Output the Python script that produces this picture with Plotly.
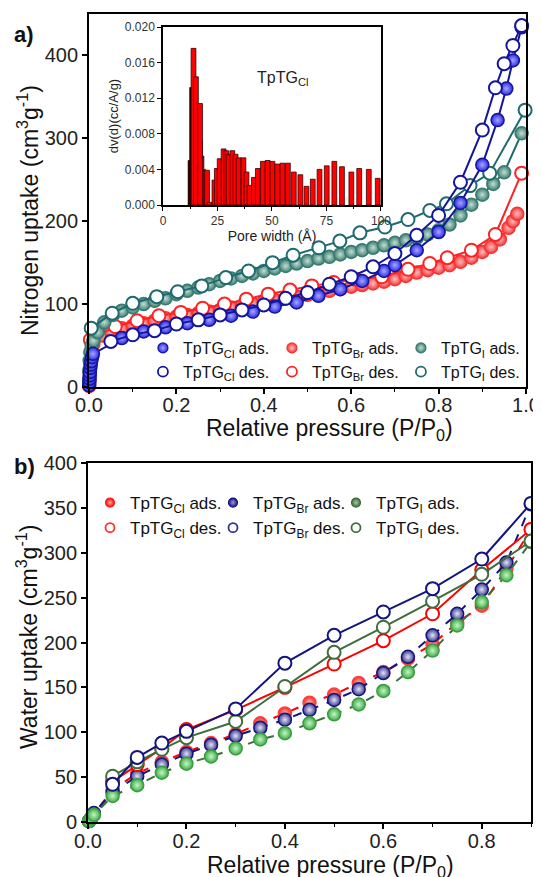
import plotly.graph_objects as go

# ---------------- Panel a : N2 isotherms ----------------
n2_cl_ads_p = [0.0004, 0.0008, 0.0012, 0.0016, 0.002, 0.003, 0.004, 0.005, 0.007, 0.009,
               0.075, 0.125, 0.175, 0.225, 0.275, 0.325, 0.375, 0.425, 0.475, 0.525, 0.575,
               0.625, 0.675, 0.7, 0.75, 0.8, 0.85, 0.9, 0.935, 0.955, 0.97, 0.99]
n2_cl_ads_v = [2, 6, 10, 14, 18, 23, 27, 31, 36, 40,
               59, 67, 72, 77, 81, 86, 91, 97, 102, 110, 118,
               128, 140, 147, 165, 187, 222, 268, 322, 360, 394, 434]
n2_cl_des_p = [0.99, 0.97, 0.95, 0.93, 0.9, 0.85, 0.8, 0.75, 0.7, 0.65, 0.6, 0.55, 0.5,
               0.45, 0.4, 0.35, 0.3, 0.25, 0.2, 0.15, 0.1, 0.05]
n2_cl_des_v = [436, 412, 390, 361, 310, 247, 207, 183, 161, 145, 133, 124, 114,
               107, 99, 93, 87, 81, 76, 68, 63, 55]

n2_br_ads_p = [0.0003, 0.0008, 0.0015, 0.003, 0.006, 0.01, 0.03, 0.05, 0.075, 0.1, 0.125, 0.15,
               0.175, 0.2, 0.225, 0.25, 0.275, 0.3, 0.325, 0.35, 0.375, 0.4, 0.425, 0.45, 0.475,
               0.5, 0.525, 0.55, 0.575, 0.6, 0.625, 0.65, 0.675, 0.7, 0.725, 0.75, 0.775, 0.8,
               0.825, 0.85, 0.875, 0.9, 0.92, 0.94, 0.96, 0.97, 0.98]
n2_br_ads_v = [1, 8, 18, 30, 44, 52, 62, 67, 71, 74, 77, 80,
               83, 85, 87, 89, 91, 93, 96, 98, 100, 103, 105, 107, 109,
               111, 114, 116, 118, 121, 123, 125, 127, 130, 134, 138, 141, 144,
               147, 151, 156, 163, 169, 178, 192, 200, 209]
n2_br_des_p = [0.99, 0.93, 0.875, 0.82, 0.78, 0.73, 0.67, 0.61, 0.56, 0.51, 0.46, 0.41,
               0.36, 0.31, 0.26, 0.21, 0.16, 0.11, 0.06, 0.003]
n2_br_des_v = [258, 184, 165, 156, 149, 142, 133, 130, 126, 122, 117, 112,
               106, 100, 95, 90, 86, 80, 73, 57]

n2_i_ads_p = [0.0003, 0.0008, 0.0015, 0.003, 0.006, 0.01, 0.02, 0.035, 0.055, 0.075, 0.1,
              0.125, 0.15, 0.175, 0.2, 0.225, 0.25, 0.275, 0.3, 0.325, 0.35, 0.375, 0.4,
              0.425, 0.45, 0.475, 0.5, 0.525, 0.55, 0.575, 0.6, 0.625, 0.65, 0.675, 0.7,
              0.725, 0.75, 0.775, 0.8, 0.825, 0.85, 0.875, 0.9, 0.925, 0.95, 0.99]
n2_i_ads_v = [8, 20, 32, 42, 50, 56, 66, 78, 87, 92, 96,
              100, 104, 107, 112, 116, 120, 124, 128, 131, 134, 137, 140,
              143, 146, 149, 152, 155, 157, 160, 163, 165, 168, 171, 174,
              177, 180, 184, 189, 196, 207, 220, 232, 245, 259, 306]
n2_i_des_p = [0.998, 0.917, 0.872, 0.818, 0.78, 0.73, 0.677, 0.62, 0.574, 0.526, 0.467,
              0.42, 0.365, 0.313, 0.258, 0.203, 0.155, 0.1, 0.053, 0.005]
n2_i_des_v = [334, 258, 243, 221, 213, 202, 193, 186, 176, 168, 159,
              150, 140, 132, 122, 115, 109, 101, 89, 71]

# ---------------- Inset : pore size distribution ----------------
pore_dark_w = [12.0, 12.7, 13.4, 14.1, 14.8, 15.5, 16.2, 16.9, 17.6, 18.3, 19.0]
pore_dark_v = [0.0050, 0.0132, 0.0132, 0.0125, 0.0110, 0.0100, 0.0095, 0.0085, 0.0072, 0.0055, 0.0040]
pore_w = [14.0, 15.1, 17.0, 20.2, 21.5, 23.6, 24.7, 26.0, 27.8, 29.0, 30.1, 31.8, 33.3, 34.7,
          36.9, 38.3, 39.7, 41.7, 43.5, 45.8, 48.0, 50.2, 52.4, 54.8, 57.3, 60.0, 63.0, 65.8,
          68.7, 71.8, 75.1, 78.6, 82.1, 86.4, 90.0, 94.4, 98.5]
pore_v = [0.0176, 0.0144, 0.0114, 0.0039, 0.0003, 0.0028, 0.0041, 0.0052, 0.0063, 0.0061, 0.0057,
          0.0061, 0.0057, 0.0053, 0.0053, 0.0037, 0.0022, 0.0031, 0.0041, 0.0049, 0.0050, 0.0049,
          0.0046, 0.0047, 0.0047, 0.0037, 0.0034, 0.0021, 0.0029, 0.0040, 0.0044, 0.0049, 0.0043,
          0.0037, 0.0041, 0.0040, 0.0030]

# ---------------- Panel b : water isotherms ----------------
h2o_ads_p = [0.002, 0.006, 0.012, 0.05, 0.1, 0.15, 0.2, 0.25, 0.3, 0.35, 0.4, 0.45, 0.5,
             0.55, 0.6, 0.65, 0.7, 0.75, 0.8, 0.85, 0.9]
h2o_cl_ads = [1, 4, 9, 36, 54, 67, 78, 88, 98, 110, 121, 133, 142, 155, 167, 182, 198, 222, 241, 282, 326]
h2o_br_ads = [1, 4, 10, 33, 51, 64, 76, 86, 96, 105, 114, 125, 136, 148, 166, 184, 208, 232, 259, 289, 354]
h2o_i_ads = [1, 4, 8, 29, 41, 55, 65, 73, 82, 92, 99, 110, 120, 131, 146, 167, 191, 219, 245, 275, 312]
h2o_des_p = [0.9, 0.8, 0.7, 0.6, 0.5, 0.4, 0.3, 0.2, 0.15, 0.1, 0.05]
h2o_cl_des = [326, 281, 232, 202, 176, 150, 125, 103, 82, 64, 45]
h2o_br_des = [355, 293, 260, 234, 208, 177, 126, 101, 88, 72, 42]
h2o_i_des = [313, 276, 246, 217, 189, 151, 112, 94, 81, 67, 51]

FONT = "Liberation Sans, Arial, sans-serif"
fig = go.Figure()


def ads_trace(x, y, line_col, edge, center, outline, size, xa, ya, dash="solid"):
    return go.Scatter(x=x, y=y, mode="lines+markers", xaxis=xa, yaxis=ya, showlegend=False,
                      cliponaxis=False, hoverinfo="skip",
                      line=dict(color=line_col, width=2, dash=dash),
                      marker=dict(size=size, color=edge,
                                  gradient=dict(type="radial", color=center),
                                  line=dict(color=outline, width=1.5)))


def des_trace(x, y, line_col, size, xa, ya):
    return go.Scatter(x=x, y=y, mode="lines+markers", xaxis=xa, yaxis=ya, showlegend=False,
                      cliponaxis=False, hoverinfo="skip",
                      line=dict(color=line_col, width=2),
                      marker=dict(size=size, color="white", line=dict(color=line_col, width=2)))


# panel a colours
A_CL_LINE, A_CL_EDGE, A_CL_CEN = "#15159c", "#2a2ae8", "#a8a8ff"
A_BR_LINE, A_BR_EDGE, A_BR_CEN = "#ff2222", "#f03a3a", "#ffc0c0"
A_I_LINE, A_I_EDGE, A_I_CEN = "#1e6a6e", "#3e8072", "#c4ddd6"

fig.add_trace(ads_trace(n2_br_ads_p, n2_br_ads_v, A_BR_LINE, A_BR_EDGE, A_BR_CEN, "#ff3030", 13, "x", "y"))
fig.add_trace(des_trace(n2_br_des_p, n2_br_des_v, A_BR_LINE, 13, "x", "y"))
fig.add_trace(ads_trace(n2_i_ads_p, n2_i_ads_v, A_I_LINE, A_I_EDGE, A_I_CEN, "#3a7a70", 13, "x", "y"))
fig.add_trace(des_trace(n2_i_des_p, n2_i_des_v, A_I_LINE, 13, "x", "y"))
fig.add_trace(ads_trace(n2_cl_ads_p, n2_cl_ads_v, A_CL_LINE, A_CL_EDGE, A_CL_CEN, A_CL_LINE, 13, "x", "y"))
fig.add_trace(des_trace(n2_cl_des_p, n2_cl_des_v, A_CL_LINE, 13, "x", "y"))

# inset bars
dark_cols = ["#2a0000", "#3a0000", "#4a0404", "#580808", "#680a0a", "#780c0c", "#880e0e",
             "#981010", "#a81212", "#b81414", "#c81616"]
fig.add_trace(go.Bar(x=pore_dark_w, y=pore_dark_v, width=1.0, xaxis="x3", yaxis="y3",
                     marker=dict(color=dark_cols, line=dict(color="#200000", width=0.6)),
                     showlegend=False, hoverinfo="skip"))
fig.add_trace(go.Bar(x=pore_w, y=pore_v, width=2.2, xaxis="x3", yaxis="y3",
                     marker=dict(color="#ff0000", line=dict(color="#3a0000", width=0.8)),
                     showlegend=False, hoverinfo="skip"))

# panel b colours
B_CL_LINE, B_CL_EDGE, B_CL_CEN = "#ff0000", "#ee2a2a", "#ffb8a8"
B_BR_LINE, B_BR_EDGE, B_BR_CEN = "#14147e", "#3c3c92", "#e4e4f4"
B_I_LINE, B_I_EDGE, B_I_CEN = "#3d6e3d", "#3cae44", "#c8f4c8"

fig.add_trace(ads_trace(h2o_ads_p, h2o_cl_ads, B_CL_LINE, B_CL_EDGE, B_CL_CEN, "#ff4040", 13, "x2", "y2", "dash"))
fig.add_trace(ads_trace(h2o_ads_p, h2o_br_ads, B_BR_LINE, B_BR_EDGE, B_BR_CEN, B_BR_LINE, 13, "x2", "y2", "dash"))
fig.add_trace(ads_trace(h2o_ads_p, h2o_i_ads, B_I_LINE, B_I_EDGE, B_I_CEN, "#3c9c44", 13, "x2", "y2", "dash"))
fig.add_trace(des_trace(h2o_des_p, h2o_cl_des, B_CL_LINE, 13, "x2", "y2"))
fig.add_trace(des_trace(h2o_des_p, h2o_i_des, B_I_LINE, 13, "x2", "y2"))
fig.add_trace(des_trace(h2o_des_p, h2o_br_des, B_BR_LINE, 13, "x2", "y2"))

# legend entries (legend-only markers)
def leg(name, legend, filled, edge, center, outline, size, rank):
    if filled:
        mk = dict(size=size, color=edge, gradient=dict(type="radial", color=center),
                  line=dict(color=outline, width=1.2))
    else:
        mk = dict(size=size, color="white", line=dict(color=outline, width=1.8))
    return go.Scatter(x=[None], y=[None], mode="markers", name=name, legend=legend,
                      marker=mk, legendrank=rank, showlegend=True, xaxis="x", yaxis="y")

CL, BR, I = "TpTG<sub>Cl</sub>", "TpTG<sub>Br</sub>", "TpTG<sub>I</sub>"
fig.add_trace(leg(CL + " ads.", "legend", True, A_CL_EDGE, A_CL_CEN, A_CL_LINE, 10, 1))
fig.add_trace(leg(BR + " ads.", "legend", True, A_BR_EDGE, A_BR_CEN, "#ff3030", 10, 2))
fig.add_trace(leg(I + " ads.", "legend", True, A_I_EDGE, A_I_CEN, "#3a7a70", 10, 3))
fig.add_trace(leg(CL + " des.", "legend", False, None, None, A_CL_LINE, 10, 4))
fig.add_trace(leg(BR + " des.", "legend", False, None, None, A_BR_LINE, 10, 5))
fig.add_trace(leg(I + " des.", "legend", False, None, None, A_I_LINE, 10, 6))

fig.add_trace(leg(CL + " ads.", "legend2", True, "#ff0000", "#ffb0a0", "#ff2020", 9, 1))
fig.add_trace(leg(BR + " ads.", "legend2", True, "#14147e", "#9a9ad0", "#14147e", 9, 2))
fig.add_trace(leg(I + " ads.", "legend2", True, "#3a6a3a", "#a8c8a8", "#3a6a3a", 9, 3))
fig.add_trace(leg(CL + " des.", "legend2", False, None, None, "#ff3030", 9, 4))
fig.add_trace(leg(BR + " des.", "legend2", False, None, None, "#3030a0", 9, 5))
fig.add_trace(leg(I + " des.", "legend2", False, None, None, "#3d6e3d", 9, 6))

axis_common = dict(showline=True, linecolor="black", linewidth=1.8, mirror=True,
                   ticks="outside", ticklen=5, tickwidth=1.5, tickcolor="black",
                   showgrid=False, zeroline=False, automargin=False,
                   tickfont=dict(family=FONT, size=20, color="#222"))
inset_common = dict(showline=True, linecolor="black", linewidth=1.5, mirror=True,
                    ticks="outside", ticklen=4, tickwidth=1.2, tickcolor="black",
                    showgrid=False, zeroline=False, automargin=False,
                    tickfont=dict(family=FONT, size=12, color="#333"))
MINOR = dict(dtick=0.1, ticks="outside", ticklen=3, tickwidth=1.3, tickcolor="black")

# the page adds an 8 px body margin, so the canvas is laid out in (page - 8) pixels
FIG_W, FIG_H = 533, 877
L_MARGIN, W_PLOT = 80.0, 443.0


def fy(px):
    return 1 - px / FIG_H


def fx(px):
    return (px - L_MARGIN) / W_PLOT


fig.update_layout(
    width=FIG_W, height=FIG_H,
    margin=dict(l=80, r=10, t=0, b=0, autoexpand=False),
    paper_bgcolor="white", plot_bgcolor="white",
    barmode="overlay",
    font=dict(family=FONT, color="#222"),
    xaxis=dict(domain=[0.0023, 0.9887], range=[0, 1.0], tickvals=[0, 0.2, 0.4, 0.6, 0.8, 1.0],
               tickformat=".1f", minor=MINOR, anchor="y", ticklabelstandoff=-6, **axis_common),
    yaxis=dict(domain=[fy(379), fy(6)], range=[0, 450], tickvals=[0, 100, 200, 300, 400],
               anchor="x", **axis_common),
    xaxis2=dict(domain=[0.0, 1.0], range=[0, 0.9], tickvals=[0, 0.2, 0.4, 0.6, 0.8],
                tickformat=".1f", minor=MINOR, anchor="y2", ticklabelstandoff=-5, **axis_common),
    yaxis2=dict(domain=[fy(814), fy(455)], range=[0, 400], dtick=50,
                anchor="x2", **axis_common),
    xaxis3=dict(domain=[0.1693, 0.6614], range=[0, 100], tickvals=[0, 25, 50, 75, 100],
                minor=dict(dtick=12.5, ticks="outside", ticklen=2, tickcolor="black"),
                title=dict(text="Pore width (Å)", standoff=2,
                           font=dict(family=FONT, size=14, color="#222")),
                anchor="y3", **inset_common),
    yaxis3=dict(domain=[fy(197), fy(19)], range=[0, 0.020],
                tickvals=[0, 0.004, 0.008, 0.012, 0.016, 0.020], tickformat=".3f",
                title=dict(text="dv(d)(cc/A/g)", standoff=3,
                           font=dict(family=FONT, size=13, color="#222")),
                anchor="x3", **inset_common),
    legend=dict(orientation="h", x=0.124, xanchor="left", y=fy(323), yanchor="top",
                entrywidth=84, entrywidthmode="pixels", bgcolor="rgba(0,0,0,0)",
                font=dict(family=FONT, size=16, color="#111"), tracegroupgap=0,
                itemclick=False, itemdoubleclick=False),
    legend2=dict(orientation="h", x=0.0045, xanchor="left", y=fy(477), yanchor="top",
                 entrywidth=78, entrywidthmode="pixels", bgcolor="rgba(0,0,0,0)",
                 font=dict(family=FONT, size=17, color="#111"), tracegroupgap=0,
                 itemclick=False, itemdoubleclick=False),
)

ann_paper = [
    # text, x px, y px, font size, angle
    ("<b>a)</b>", 16, 26, 22, 0),
    ("<b>b)</b>", 16, 458, 22, 0),
    ("Relative pressure (P/P<sub>0</sub>)", 321, 421, 23, 0),
    ("Relative pressure (P/P<sub>0</sub>)", 322, 858, 23, 0),
    ("Nitrogen uptake (cm<sup>3</sup>g<sup>-1</sup>)", 20, 203, 23, -90),
    ("Water uptake (cm<sup>3</sup>g<sup>-1</sup>)", 19, 629, 23, -90),
]
for text, px, py, size, ang in ann_paper:
    fig.add_annotation(text=text, x=fx(px), y=fy(py), xref="paper", yref="paper",
                       xanchor="center", yanchor="middle", showarrow=False, textangle=ang,
                       font=dict(family=FONT, size=size, color="#111"))
fig.add_annotation(text="TpTG<sub>Cl</sub>", x=55, y=0.0142, xref="x3", yref="y3", showarrow=False,
                   font=dict(family=FONT, size=16, color="#222"))

fig.write_html("out.html")
